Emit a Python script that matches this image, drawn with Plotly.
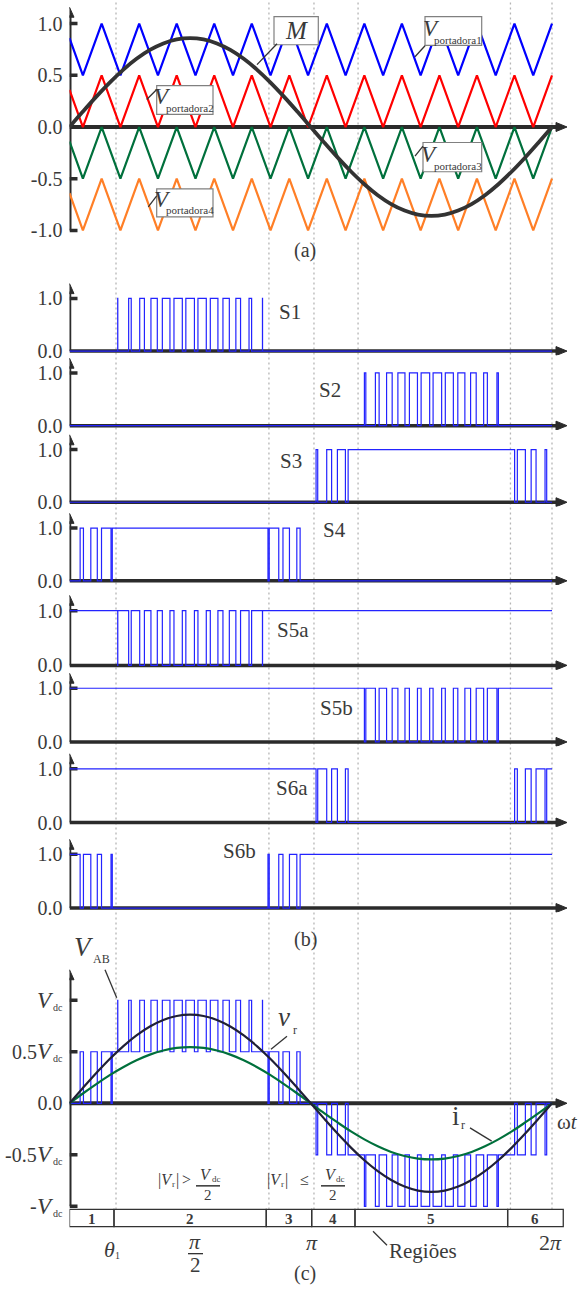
import numpy as np
import plotly.graph_objects as go

W, H = 584, 1292
SERIF = "Liberation Serif, serif"
TXT = "#3a3a3a"
AX = "#2b2b2b"
BLUE_SIG = "rgb(35,35,255)"

# ---------------- data ----------------
theta_deg = list(range(0, 361, 10))
m_wave = [0.000, 0.149, 0.294, 0.430, 0.553, 0.659, 0.745, 0.808, 0.847, 0.860,
          0.847, 0.808, 0.745, 0.659, 0.553, 0.430, 0.294, 0.149, 0.000,
          -0.149, -0.294, -0.430, -0.553, -0.659, -0.745, -0.808, -0.847, -0.860,
          -0.847, -0.808, -0.745, -0.659, -0.553, -0.430, -0.294, -0.149, 0.000]
i_r = [0.000, 0.095, 0.186, 0.273, 0.350, 0.417, 0.472, 0.512, 0.537, 0.545,
       0.537, 0.512, 0.472, 0.417, 0.350, 0.273, 0.186, 0.095, 0.000,
       -0.095, -0.186, -0.273, -0.350, -0.417, -0.472, -0.512, -0.537, -0.545,
       -0.537, -0.512, -0.472, -0.417, -0.350, -0.273, -0.186, -0.095, 0.000]

# carrier vertices (panel a): times in degrees and levels of carrier 1
carrier_t_deg = [0, 10, 24, 38, 52, 66, 80, 94, 108, 122, 136, 150, 164, 178,
                 192, 206, 220, 234, 248, 262, 276, 290, 304, 318, 332, 346, 360]
carrier1 = [0.86, 0.5, 1.0, 0.5, 1.0, 0.5, 1.0, 0.5, 1.0, 0.5, 1.0, 0.5, 1.0, 0.5,
            1.0, 0.5, 1.0, 0.5, 1.0, 0.5, 1.0, 0.5, 1.0, 0.5, 1.0, 0.5, 1.0]
carrier_names = ["portadora1", "portadora2", "portadora3", "portadora4"]
carrier_offsets = [0.0, -0.5, -1.0, -1.5]
carrier_colors = ["#0000ff", "#ff0000", "#00703c", "#ff7f27"]

# switching carrier period used for panels (b) and (c), degrees
pwm_period_deg = 9.0

# dotted guide lines and region limits (degrees)
vline_deg = [34.7, 148.8, 182.4, 215.3, 329.0, 360.0]
region_edges_deg = [0, 33.2, 146.8, 180.7, 213.0, 326.9, 368.4]
region_labels = ["1", "2", "3", "4", "5", "6"]

# panel (b): switch names, pixel rows of level 1.0 and 0.0
switch_names = ["S1", "S2", "S3", "S4", "S5a", "S5b", "S6a", "S6b"]
switch_one_px = [300, 375, 452, 531, 614, 692, 773, 859]
switch_zero_px = [353, 428, 505, 584, 669, 746, 827, 913]
switch_label_pos = [(290, 300), (330, 378), (291, 464), (334, 533),
                    (293, 633), (336, 712), (292, 792), (239, 870)]

# panel (c) tick values and their prefixes (before V_dc)
c_tick_vals = [1.0, 0.5, -0.5, -1.0]
c_tick_prefix = ["", "0.5", "-0.5", "-"]

# ---------------- geometry ----------------
X0_PX, X2PI_PX, XEND_PX = 69.5, 552.0, 567.0
PX_PER_RAD = (X2PI_PX - X0_PX) / (2 * np.pi)
X_END = (XEND_PX - X0_PX) / PX_PER_RAD

def fx(px):
    return px / W

def fy(py):
    return 1 - py / H

# ---------------- switching signals ----------------
t_deg_f = np.linspace(0, 360, 36001)
t_rad_f = np.deg2rad(t_deg_f)
m_f = np.interp(t_deg_f, theta_deg, m_wave)
u = (t_deg_f / pwm_period_deg) % 1.0
tri = 1 - np.abs(2 * u - 1)
fc1, fc2, fc3, fc4 = 0.5 + 0.5 * tri, 0.5 * tri, -0.5 + 0.5 * tri, -1 + 0.5 * tri
S1 = (m_f > fc1).astype(float)
S2 = (m_f < fc4).astype(float)
S3 = (m_f < fc3).astype(float)
S4 = (m_f > fc2).astype(float)
signals = [S1, S2, S3, S4, 1 - S1, 1 - S2, 1 - S3, 1 - S4]
vab = 0.5 * (S1 + S4 - S2 - S3)

def steps(sig):
    ch = np.flatnonzero(np.diff(sig) != 0) + 1
    keep = np.concatenate(([0], ch, [len(sig) - 1]))
    return t_rad_f[keep], sig[keep]

fig = go.Figure()
layout = dict(width=W, height=H, margin=dict(l=0, r=0, t=0, b=0),
              paper_bgcolor="white", plot_bgcolor="white", showlegend=False,
              font=dict(family=SERIF, color=TXT),
              xaxis=dict(domain=[fx(X0_PX), fx(XEND_PX)], range=[0, X_END],
                         visible=False, fixedrange=True))
shapes, annots = [], []

def add_axis(idx, zero_px, unit_px, lo, hi, tickvals, ticktext, ymin, tip, ticks_at, lw):
    bottom = zero_px - lo * unit_px
    top = zero_px - hi * unit_px
    name = "yaxis" if idx == 1 else f"yaxis{idx}"
    layout[name] = dict(domain=[fy(bottom), fy(top)], range=[lo, hi], anchor="x",
                        showgrid=False, zeroline=False, showline=False,
                        tickvals=tickvals, ticktext=ticktext, ticks="",
                        ticklabelstandoff=6, fixedrange=True,
                        tickfont=dict(family=SERIF, size=20, color=TXT))
    yr = "y" if idx == 1 else f"y{idx}"
    shapes.append(dict(type="line", xref="x", yref=yr, x0=0, x1=X_END - 0.09, y0=0, y1=0,
                       line=dict(color=AX, width=lw), layer="below"))
    shapes.append(dict(type="path", xref="x", yref=yr, xsizemode="pixel", ysizemode="pixel",
                       xanchor=X_END, yanchor=0, path="M -11,-4.5 L 0,0 L -11,4.5 Z",
                       fillcolor=AX, line=dict(color=AX, width=1), layer="below"))
    shapes.append(dict(type="line", xref="x", yref=yr, x0=0, x1=0, y0=ymin,
                       y1=tip - 8 / unit_px, line=dict(color=AX, width=lw), layer="below"))
    shapes.append(dict(type="path", xref="x", yref=yr, xsizemode="pixel", ysizemode="pixel",
                       xanchor=0, yanchor=tip, path="M -4.5,-10 L 0,0 L 4.5,-10 Z",
                       fillcolor=AX, line=dict(color=AX, width=1), layer="below"))
    for v in ticks_at:
        shapes.append(dict(type="line", xref="x", yref=yr, xsizemode="pixel", xanchor=0,
                           x0=0, x1=8, y0=v, y1=v, line=dict(color=AX, width=3.5),
                           layer="below"))
    return yr

# ---------------- panel (a) ----------------
ya = add_axis(1, 127.7, 104.0, -1.08, 1.2, [-1, -0.5, 0, 0.5, 1],
              ["-1.0", "-0.5", "0.0", "0.5", "1.0"], -1.0, 1.158,
              [-1, -0.5, 0.5, 1], 4)
ct = np.deg2rad(carrier_t_deg)
for name, off, col in zip(carrier_names, carrier_offsets, carrier_colors):
    fig.add_trace(go.Scatter(x=ct, y=[c + off for c in carrier1], mode="lines",
                             line=dict(color=col, width=2.2), xaxis="x", yaxis=ya,
                             name=name))
fig.add_trace(go.Scatter(x=np.deg2rad(theta_deg), y=m_wave, mode="lines",
                         line=dict(color="#333333", width=3.8, shape="spline"),
                         xaxis="x", yaxis=ya, name="M"))

# ---------------- panel (b) ----------------
for k, (nm, p1, p0, sig) in enumerate(zip(switch_names, switch_one_px, switch_zero_px, signals)):
    idx = k + 2
    yr = add_axis(idx, p0, p0 - p1, -0.08, 1.32, [0, 1], ["0.0", "1.0"], 0, 1.28, [1], 3.5)
    xs, ys = steps(sig)
    fig.add_trace(go.Scatter(x=xs, y=ys, mode="lines",
                             line=dict(color=BLUE_SIG, width=1.2, shape="hv"),
                             xaxis="x", yaxis=yr, name=nm))
    lx, ly = switch_label_pos[k]
    annots.append(dict(x=fx(lx), y=fy(ly), xref="paper", yref="paper", text=nm,
                       showarrow=False, font=dict(family=SERIF, size=21, color=TXT)))

# ---------------- panel (c) ----------------
yc = add_axis(10, 1109.3, 103.6, -1.06, 1.32, [0], ["0.0"], -1.0, 1.296,
              [-1, -0.5, 0.5, 1], 4)
for v, pre in zip(c_tick_vals, c_tick_prefix):
    if pre:
        annots.append(dict(x=fx(38.5), y=v, xref="paper", yref=yc, text=pre,
                           showarrow=False, xanchor="right", yanchor="middle",
                           font=dict(family=SERIF, size=20, color=TXT)))
    annots.append(dict(x=fx(45), y=v, xref="paper", yref=yc, text="<i>V</i>",
                       showarrow=False, xanchor="center", yanchor="middle",
                       font=dict(family=SERIF, size=23, color=TXT)))
    annots.append(dict(x=fx(57.5), y=v, yshift=-7, xref="paper", yref=yc, text="dc",
                       showarrow=False, xanchor="center", yanchor="middle",
                       font=dict(family=SERIF, size=10, color=TXT)))

xs, ys = steps(vab)
fig.add_trace(go.Scatter(x=xs, y=ys, mode="lines",
                         line=dict(color=BLUE_SIG, width=1.2, shape="hv"),
                         xaxis="x", yaxis=yc, name="VAB"))
fig.add_trace(go.Scatter(x=np.deg2rad(theta_deg), y=i_r, mode="lines",
                         line=dict(color="#00703c", width=2.2, shape="spline"),
                         xaxis="x", yaxis=yc, name="ir"))
fig.add_trace(go.Scatter(x=np.deg2rad(theta_deg), y=m_wave, mode="lines",
                         line=dict(color="#202035", width=2.2, shape="spline"),
                         xaxis="x", yaxis=yc, name="vr"))

# ---------------- dotted guides ----------------
for d in vline_deg:
    shapes.append(dict(type="line", xref="x", yref="paper", x0=np.deg2rad(d), x1=np.deg2rad(d),
                       y0=fy(1216), y1=fy(0), layer="below",
                       line=dict(color="#b5b5b5", width=1.3, dash="2px,3px")))

# ---------------- region bar ----------------
for i, lab in enumerate(region_labels):
    a, b = np.deg2rad(region_edges_deg[i]), np.deg2rad(region_edges_deg[i + 1])
    shapes.append(dict(type="rect", xref="x", yref="paper", x0=a, x1=b,
                       y0=fy(1233.3), y1=fy(1216), line=dict(color="#333333", width=1.3)))
    annots.append(dict(x=(a + b) / 2, y=fy(1226), xref="x", yref="paper",
                       text="<b>" + lab + "</b>", showarrow=False, yanchor="middle",
                       font=dict(family=SERIF, size=15, color=TXT)))

# ---------------- labels ----------------
def txt(px, py, s, size, anchor="center"):
    annots.append(dict(x=fx(px), y=fy(py), xref="paper", yref="paper", text=s,
                       showarrow=False, xanchor=anchor, yanchor="middle",
                       font=dict(family=SERIF, size=size, color=TXT)))

def pline(x0, y0, x1, y1, w=1.2, color="#333333"):
    shapes.append(dict(type="line", xref="paper", yref="paper", x0=fx(x0), y0=fy(y0),
                       x1=fx(x1), y1=fy(y1), line=dict(color=color, width=w)))

def box(x0, y0, x1, y1):
    shapes.append(dict(type="rect", xref="paper", yref="paper", x0=fx(x0), y0=fy(y0),
                       x1=fx(x1), y1=fy(y1), fillcolor="white",
                       line=dict(color="#808080", width=1.2), layer="above"))

# panel (a) callouts
box(274, 16.7, 318.3, 45)
txt(296, 31, "<i>M</i>", 25)
pline(277, 44, 257, 65, 1.3)
for (bx0, by0, bx1, by1, vx, vy, sx, sy, name, l0, l1) in [
        (425, 16.7, 481.7, 45.7, 431, 29, 458, 40, "portadora1", (425, 46), (415, 57)),
        (156.7, 86, 213, 115, 162.5, 97.5, 190, 109, "portadora2", (156.7, 90), (146.7, 100)),
        (423, 143.3, 481.7, 172.7, 430, 155, 458, 166.5, "portadora3", (423, 147), (415, 157)),
        (156.7, 190, 213, 218, 162.5, 200.5, 190, 211.5, "portadora4", (156.7, 197), (148.3, 208))]:
    box(bx0, by0, bx1, by1)
    txt(vx, vy, "<i>V</i>", 23)
    txt(sx, sy, name, 11)
    pline(l0[0], l0[1], l1[0], l1[1], 1.3)

txt(305, 252, "(a)", 20)
txt(305, 945, "(b)", 20)
txt(305, 1280, "(c)", 20)

# panel (c) callouts
txt(84, 952, "<i>V</i>", 27)
txt(101.5, 964, "AB", 12)
pline(105, 975, 116.7, 1003.3, 1.3)
txt(284, 1023, "<i>v</i>", 27)
txt(295, 1036, "r", 12)
pline(287, 1042, 271, 1055, 1.3)
txt(456, 1122, "i", 27)
txt(463, 1131, "r", 12)
pline(470, 1134, 491.7, 1147.3, 1.3)
txt(580, 1128, "ω<i>t</i>", 21, anchor="right")

# region conditions
def cond(x_bar_l, x_bar_r, x_v, sym, x_sym):
    xc = (x_bar_l + x_bar_r) / 2
    txt(x_v - 4, 1186, "|<i>V</i>", 16)
    txt(x_v + 4.5, 1190, "r", 9)
    txt(x_v + 8.5, 1186, "|", 16)
    txt(x_sym, 1186, sym, 16)
    txt(xc - 2, 1181, "<i>V</i>", 16)
    txt(xc + 8, 1185, "dc", 9)
    pline(x_bar_l, 1192.3, x_bar_r, 1192.3, 1.5)
    txt(xc, 1201.5, "2", 15)

cond(196, 220, 169, "&gt;", 186)
cond(321, 345, 278, "≤", 304)

# bottom labels
txt(109, 1256, "<i>θ</i>", 22)
txt(117, 1262, "1", 10)
txt(195, 1248, "<i>π</i>", 22)
pline(188, 1260.5, 203, 1260.5, 1.3)
txt(195, 1272, "2", 21)
txt(312, 1249, "<i>π</i>", 22)
txt(550, 1249, "2<i>π</i>", 22)
txt(423, 1258, "Regiões", 21)
pline(373, 1238, 387, 1252, 1.3)

layout["shapes"] = shapes
layout["annotations"] = annots
fig.update_layout(**layout)
fig.write_html("out.html",
               config={"displayModeBar": False, "staticPlot": True},
               post_script="document.body.style.margin='0px';"
                           "document.body.style.overflow='hidden';")
